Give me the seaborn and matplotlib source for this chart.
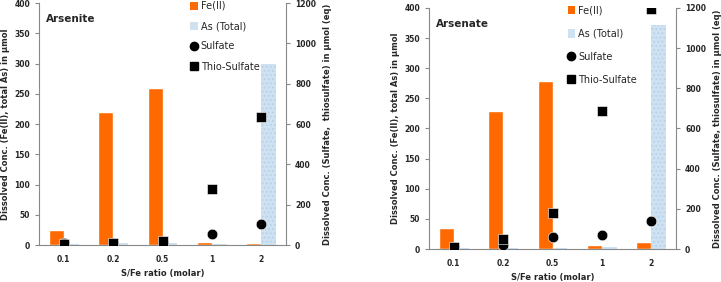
import matplotlib
matplotlib.use("Agg")
import matplotlib.pyplot as plt
from matplotlib.lines import Line2D
from matplotlib.patches import Patch
import seaborn as sns
import numpy as np
import pandas as pd

ratios = ["0.1", "0.2", "0.5", "1", "2"]

# Arsenite panel
arsenite_fe = [25, 220, 259, 5, 3]
arsenite_as = [2, 4, 3, 2, 299]
arsenite_sulfate = [12, 10, 14, 56, 106]
arsenite_thio = [3, 12, 18, 280, 636]

# Arsenate panel
arsenate_fe = [35, 229, 278, 6, 12]
arsenate_as = [1, 1, 1, 3, 372]
arsenate_sulfate = [10, 18, 58, 71, 141]
arsenate_thio = [12, 50, 179, 689, 1195]

FE_COLOR = "#ff6a00"
AS_COLOR = "#cfe2f2"

sns.set_style("white")
plt.rcParams["font.family"] = ["DejaVu Sans"]
plt.rcParams["font.weight"] = "bold"

fig = plt.figure(figsize=(7.21, 2.82), dpi=100)


def draw_panel(rect, title, fe, arsenic, sulfate, thio, right_label, leg_anchor, leg_spacing):
    ax = fig.add_axes(rect)
    bars = pd.DataFrame({
        "ratio": ratios * 2,
        "conc": fe + arsenic,
        "species": ["Fe(II)"] * len(ratios) + ["As (Total)"] * len(ratios),
    })
    sns.barplot(data=bars, x="ratio", y="conc", hue="species", order=ratios,
                palette={"Fe(II)": FE_COLOR, "As (Total)": AS_COLOR},
                width=0.6, gap=0, ax=ax, legend=False, saturation=1)
    for p in ax.patches:
        if p.get_facecolor()[0] < 0.9:
            p.set_hatch("....")
            p.set_edgecolor("#b9d3ea")
            p.set_linewidth(0)
    ax.set_xlim(-0.5, len(ratios) - 0.5)
    ax.set_ylim(0, 400)
    ax.set_yticks(np.arange(0, 401, 50))
    ax.set_xlabel("S/Fe ratio (molar)", fontsize=6, fontweight="bold", labelpad=4)
    ax.set_ylabel("Dissolved Conc. (Fe(II), total As) in µmol", fontsize=6, fontweight="bold", labelpad=3)
    ax.tick_params(axis="x", length=0, labelsize=5.5, pad=7)
    ax.set_xticks(np.arange(-0.5, len(ratios)), minor=True)
    ax.tick_params(axis="x", which="minor", length=3, color="#888888", direction="out")
    ax.tick_params(axis="y", length=3, labelsize=5.5, color="#888888", direction="out", left=True)
    for s in ["top", "right"]:
        ax.spines[s].set_visible(False)
    for s in ["left", "bottom"]:
        ax.spines[s].set_color("#888888")
        ax.spines[s].set_linewidth(0.8)
    ax.text(0.03, 0.955, title, transform=ax.transAxes, fontsize=7.5,
            fontweight="bold", va="top", ha="left")

    ax2 = ax.twinx()
    pos = np.arange(len(ratios))
    sns.scatterplot(x=pos, y=sulfate, marker="o", color="black", s=58,
                    edgecolor="white", linewidth=0.4, ax=ax2, zorder=5)
    sns.scatterplot(x=pos, y=thio, marker="s", color="black", s=52,
                    edgecolor="white", linewidth=0.4, ax=ax2, zorder=6)
    ax2.set_ylim(0, 1200)
    ax2.set_yticks(np.arange(0, 1201, 200))
    ax2.set_ylabel(right_label, fontsize=6, fontweight="bold", labelpad=5)
    ax2.tick_params(axis="y", length=3, labelsize=5.5, color="#888888", direction="out", right=True)
    ax2.spines["top"].set_visible(False)
    ax2.spines["left"].set_visible(False)
    ax2.spines["bottom"].set_visible(False)
    ax2.spines["right"].set_visible(True)
    ax2.spines["right"].set_color("#888888")
    ax2.spines["right"].set_linewidth(0.8)
    ax2.set_xlim(-0.5, len(ratios) - 0.5)

    handles = [
        Patch(facecolor=FE_COLOR, edgecolor="none", label="Fe(II)"),
        Patch(facecolor=AS_COLOR, edgecolor="none", label="As (Total)"),
        Line2D([], [], marker="o", color="black", linestyle="none", markersize=6, label="Sulfate"),
        Line2D([], [], marker="s", color="black", linestyle="none", markersize=6, label="Thio-Sulfate"),
    ]
    ax2.legend(handles=handles, loc="upper left", bbox_to_anchor=leg_anchor, frameon=False,
               handlelength=0.8, handleheight=0.9, handletextpad=0.3,
               labelspacing=leg_spacing, borderaxespad=0, prop={"size": 7, "weight": "normal"})
    return ax, ax2


draw_panel([0.0541, 0.131, 0.3426, 0.858], "Arsenite",
           arsenite_fe, arsenite_as, arsenite_sulfate, arsenite_thio,
           "Dissolved Conc. (Sulfate,  thiosulfate) in µmol (eq)", (0.595, 1.025), 1.05)
draw_panel([0.595, 0.117, 0.3426, 0.855], "Arsenate",
           arsenate_fe, arsenate_as, arsenate_sulfate, arsenate_thio,
           "Dissolved Conc. (Sulfate, thiosulfate) in µmol (eq)", (0.545, 1.025), 1.35)

fig.savefig("out.png", dpi=100)
